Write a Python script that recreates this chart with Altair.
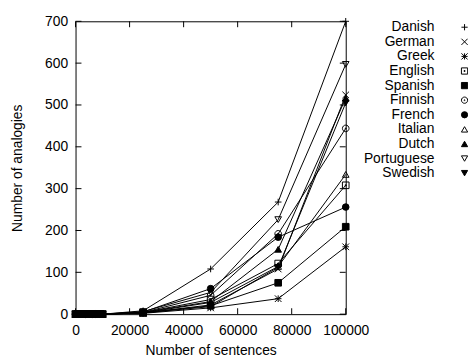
import altair as alt
import pandas as pd

languages = ["Danish", "German", "Greek", "English", "Spanish", "Finnish",
             "French", "Italian", "Dutch", "Portuguese", "Swedish"]

sentences = [0, 1000, 2000, 3000, 4000, 5000, 6000, 7000, 8000, 9000, 10000,
             25000, 50000, 75000, 100000]

danish     = [0, 0, 0, 0, 0, 0, 0, 0, 0, 0, 0, 8, 108, 268, 700]
german     = [0, 0, 0, 0, 0, 0, 0, 0, 0, 0, 0, 3, 22, 108, 524]
greek      = [0, 0, 0, 0, 0, 0, 0, 0, 0, 0, 0, 2, 15, 37, 161]
english    = [0, 0, 0, 0, 0, 0, 0, 0, 0, 0, 0, 4, 35, 121, 308]
spanish    = [0, 0, 0, 0, 0, 0, 0, 0, 0, 0, 0, 3, 20, 75, 209]
finnish    = [0, 0, 0, 0, 0, 0, 0, 0, 0, 0, 0, 4, 45, 192, 444]
french     = [0, 0, 0, 0, 0, 0, 0, 0, 0, 0, 0, 5, 61, 184, 256]
italian    = [0, 0, 0, 0, 0, 0, 0, 0, 0, 0, 0, 3, 28, 114, 334]
dutch      = [0, 0, 0, 0, 0, 0, 0, 0, 0, 0, 0, 4, 30, 155, 516]
portuguese = [0, 0, 0, 0, 0, 0, 0, 0, 0, 0, 0, 6, 52, 226, 597]
swedish    = [0, 0, 0, 0, 0, 0, 0, 0, 0, 0, 0, 3, 18, 112, 505]

series = [danish, german, greek, english, spanish, finnish, french,
          italian, dutch, portuguese, swedish]

x_ticks = [0, 20000, 40000, 60000, 80000, 100000]
y_ticks = [0, 100, 200, 300, 400, 500, 600, 700]

PLUS = "M-1,0H1M0,-1V1"
CROSS = "M-1,-1L1,1M-1,1L1,-1"
STAR = PLUS + CROSS
BOX_DOT = "M-1,-1H1V1H-1Z M-0.15,-0.15H0.15V0.15H-0.15Z"
CIRC_DOT = ("M-1,0A1,1,0,1,0,1,0A1,1,0,1,0,-1,0Z "
            "M-0.15,0A0.15,0.15,0,1,0,0.15,0A0.15,0.15,0,1,0,-0.15,0Z")
shapes = [PLUS, CROSS, STAR, BOX_DOT, "square", CIRC_DOT, "circle",
          "triangle-up", "triangle-up", "triangle-down", "triangle-down"]
fills = ["transparent", "transparent", "transparent", "transparent", "black",
         "transparent", "black", "transparent", "black", "transparent", "black"]

rows = []
for lang, vals in zip(languages, series):
    for xv, yv in zip(sentences, vals):
        rows.append({"lang": lang, "x": xv, "y": yv})
df = pd.DataFrame(rows)

FONT = "Liberation Sans"
W, H = 274, 297
TICK = 6

xscale = alt.Scale(domain=[0, 100000], nice=False, zero=False)
yscale = alt.Scale(domain=[0, 700], nice=False)
shape_scale = alt.Scale(domain=languages, range=shapes)
fill_scale = alt.Scale(domain=languages, range=fills)

xaxis = alt.Axis(values=x_ticks, format="d", tickSize=0, domain=False, grid=False,
                 labelFontSize=14, labelFont=FONT, labelColor="black",
                 labelPadding=10, labelFlush=False, labelOverlap=False,
                 title="Number of sentences", titleFont=FONT, titleFontSize=14,
                 titleFontWeight="normal", titleColor="black", titlePadding=6)
yaxis = alt.Axis(values=y_ticks, format="d", tickSize=0, domain=False, grid=False,
                 labelFontSize=14, labelFont=FONT, labelColor="black",
                 labelPadding=8, labelFlush=False, labelOverlap=False,
                 title="Number of analogies", titleFont=FONT, titleFontSize=14,
                 titleFontWeight="normal", titleColor="black", titlePadding=20)

base = alt.Chart(df)
lines = base.mark_line(color="black", strokeWidth=1).encode(
    x=alt.X("x:Q", scale=xscale, axis=xaxis),
    y=alt.Y("y:Q", scale=yscale, axis=yaxis),
    detail="lang:N",
)
points = base.mark_point(stroke="black", strokeWidth=1, size=45, opacity=1).encode(
    x=alt.X("x:Q", scale=xscale),
    y=alt.Y("y:Q", scale=yscale),
    shape=alt.Shape("lang:N", scale=shape_scale, legend=None),
    fill=alt.Fill("lang:N", scale=fill_scale, legend=None),
)

xt = alt.Chart(pd.DataFrame({"x": x_ticks}))
yt = alt.Chart(pd.DataFrame({"y": y_ticks}))
xticks_bottom = xt.mark_rule(color="black", strokeWidth=1).encode(
    x=alt.X("x:Q", scale=xscale), y=alt.value(H), y2=alt.value(H - TICK))
xticks_top = xt.mark_rule(color="black", strokeWidth=1).encode(
    x=alt.X("x:Q", scale=xscale), y=alt.value(0), y2=alt.value(TICK))
yticks_left = yt.mark_rule(color="black", strokeWidth=1).encode(
    y=alt.Y("y:Q", scale=yscale), x=alt.value(0), x2=alt.value(TICK))
yticks_right = yt.mark_rule(color="black", strokeWidth=1).encode(
    y=alt.Y("y:Q", scale=yscale), x=alt.value(W), x2=alt.value(W - TICK))

main = alt.layer(lines, points, xticks_bottom, xticks_top, yticks_left, yticks_right)

leg_df = pd.DataFrame({"lang": languages})
leg_y = alt.Y("lang:N", sort=languages,
              scale=alt.Scale(domain=languages, range=[6, 154], padding=0),
              axis=None)
leg_text = alt.Chart(leg_df).mark_text(
    align="right", baseline="middle", fontSize=14, font=FONT, color="black"
).encode(x=alt.value(364), y=leg_y, text="lang:N")
leg_sym = alt.Chart(leg_df).mark_point(
    stroke="black", strokeWidth=1, size=40, opacity=1
).encode(
    x=alt.value(394.5), y=leg_y,
    shape=alt.Shape("lang:N", scale=shape_scale, legend=None),
    fill=alt.Fill("lang:N", scale=fill_scale, legend=None),
)
legend = alt.layer(leg_text, leg_sym)

chart = alt.layer(main, legend).resolve_scale(y="independent").properties(
    width=W, height=H,
    autosize=alt.AutoSizeParams(type="none"),
    padding={"left": 68.5, "top": 11, "right": 124, "bottom": 44},
    background="white",
).configure_view(stroke="black", strokeWidth=1)

chart.save("out.html", embed_options={"renderer": "svg", "actions": False})
